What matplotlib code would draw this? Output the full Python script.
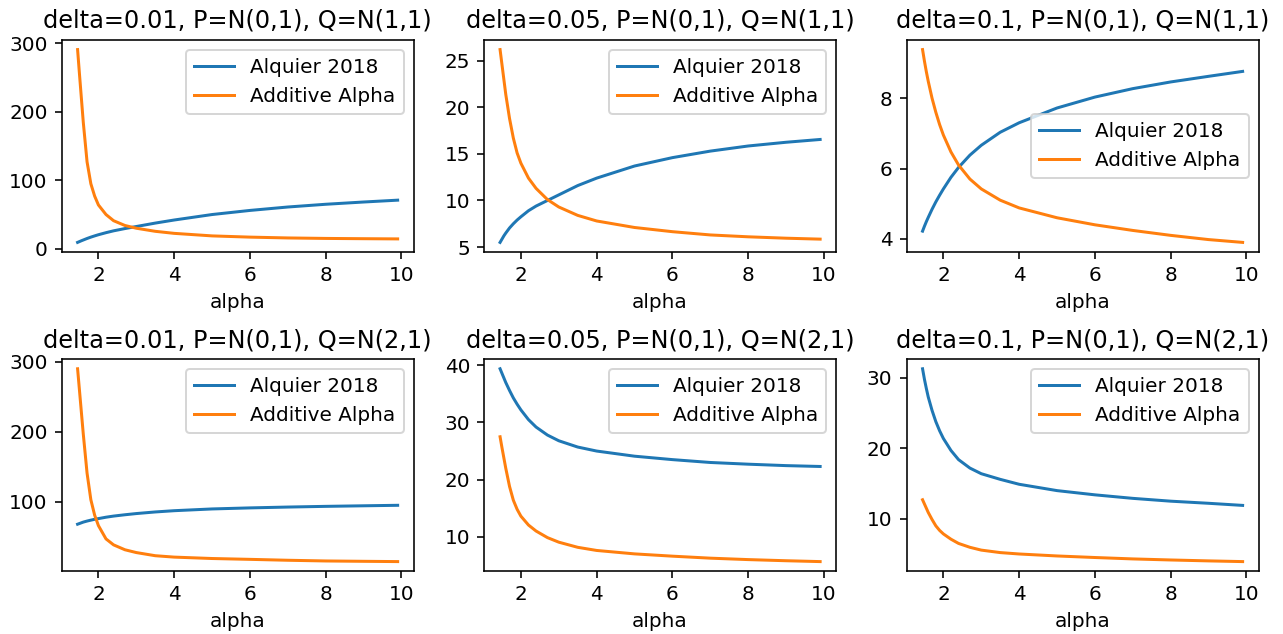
import matplotlib
matplotlib.use('Agg')
import matplotlib.pyplot as plt

alpha = [1.45, 1.5, 1.55, 1.6, 1.7, 1.8, 1.9, 2.0, 2.2, 2.4, 2.7, 3.0, 3.5, 4.0,
         5.0, 6.0, 7.0, 8.0, 9.0, 9.9]

deltas = ['0.01', '0.05', '0.1']
q_means = ['1', '2']

# Q=N(1,1)
alquier_q1_d001 = [9.3, 10.5, 11.7, 12.8, 15.0, 17.0, 18.8, 20.5, 23.5, 26.2, 29.5, 32.5,
                   37.5, 42.0, 50.0, 56.0, 61.0, 65.0, 68.3, 71.0]
additive_q1_d001 = [291, 255, 220, 185, 127, 95, 77, 64, 50, 41, 34, 30, 25.5, 22.5,
                    18.8, 17.0, 15.8, 15.1, 14.7, 14.4]
alquier_q1_d005 = [5.5, 5.85, 6.2, 6.5, 7.05, 7.5, 7.9, 8.25, 8.9, 9.4, 10.0, 10.6, 11.6,
                   12.4, 13.7, 14.6, 15.3, 15.85, 16.25, 16.55]
additive_q1_d005 = [26.2, 24.6, 23.0, 21.4, 18.8, 16.7, 15.1, 14.0, 12.4, 11.3, 10.1, 9.3,
                    8.4, 7.8, 7.1, 6.65, 6.3, 6.1, 5.95, 5.85]
alquier_q1_d01 = [4.22, 4.36, 4.49, 4.61, 4.84, 5.05, 5.24, 5.42, 5.75, 6.03, 6.38, 6.66,
                  7.03, 7.3, 7.72, 8.03, 8.27, 8.46, 8.62, 8.76]
additive_q1_d01 = [9.38, 9.05, 8.75, 8.48, 8.0, 7.6, 7.25, 6.95, 6.47, 6.1, 5.7, 5.42,
                   5.1, 4.88, 4.6, 4.4, 4.24, 4.1, 3.98, 3.9]

# Q=N(2,1)
alquier_q2_d001 = [68, 69, 70, 71, 72.5, 73.8, 75, 76, 78, 79.6, 81.5, 83.2, 85.5, 87.3,
                   89.8, 91.3, 92.5, 93.5, 94.3, 95.0]
additive_q2_d001 = [290, 259, 228, 197, 141, 103, 81, 66, 47, 38.5, 31.5, 27.5, 23, 21,
                    19, 17.8, 16.5, 15.5, 15.0, 14.6]
alquier_q2_d005 = [39.4, 38.6, 37.8, 37.0, 35.6, 34.3, 33.2, 32.2, 30.5, 29.2, 27.8, 26.8,
                   25.7, 25.0, 24.1, 23.5, 23.0, 22.7, 22.45, 22.3]
additive_q2_d005 = [27.5, 25.6, 23.8, 22.0, 18.8, 16.4, 14.8, 13.6, 12.05, 11.0, 9.85,
                    9.05, 8.15, 7.6, 7.0, 6.6, 6.25, 6.0, 5.8, 5.65]
alquier_q2_d01 = [31.3, 29.8, 28.5, 27.3, 25.4, 23.8, 22.5, 21.4, 19.7, 18.4, 17.2, 16.4,
                  15.6, 14.9, 14.0, 13.4, 12.9, 12.5, 12.2, 11.9]
additive_q2_d01 = [12.7, 12.1, 11.5, 10.9, 9.9, 9.0, 8.35, 7.85, 7.1, 6.5, 5.95, 5.55,
                   5.2, 5.0, 4.72, 4.5, 4.3, 4.15, 4.02, 3.92]

alquier = [[alquier_q1_d001, alquier_q1_d005, alquier_q1_d01],
           [alquier_q2_d001, alquier_q2_d005, alquier_q2_d01]]
additive = [[additive_q1_d001, additive_q1_d005, additive_q1_d01],
            [additive_q2_d001, additive_q2_d005, additive_q2_d01]]

fig, axes = plt.subplots(2, 3, figsize=(1283 / 144, 634 / 144), dpi=144)
fig.subplots_adjust(left=0.048, right=0.981, bottom=0.099, top=0.937,
                    wspace=0.2, hspace=0.505)

for i, q in enumerate(q_means):
    for j, d in enumerate(deltas):
        ax = axes[i, j]
        ax.plot(alpha, alquier[i][j], label='Alquier 2018')
        ax.plot(alpha, additive[i][j], label='Additive Alpha')
        ax.set_title('delta=%s, P=N(0,1), Q=N(%s,1)' % (d, q))
        ax.set_xlabel('alpha')
        if i == 0 and j == 2:
            ax.legend(loc='center right')
        else:
            ax.legend(loc='upper right')

fig.savefig('out.png', dpi=144)
